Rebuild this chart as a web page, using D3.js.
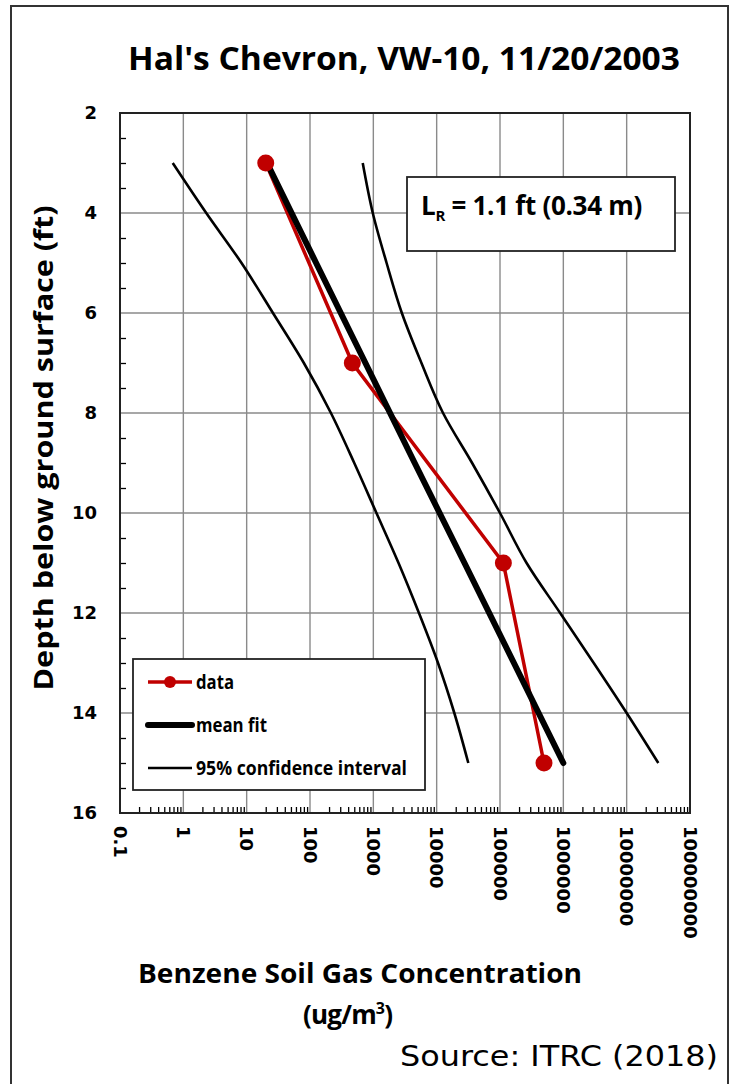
<!DOCTYPE html>
<html>
<head>
<meta charset="utf-8">
<script src="https://cdn.jsdelivr.net/npm/d3@7"></script>
<style>
  body { margin: 0; background: #fff; }
  svg { display: block; }
</style>
</head>
<body>
<div id="chart"></div>
<script>
// depths (ft) and concentrations (ug/m3)
var dataDepth = [3, 7, 11, 15];
var dataConc = [20, 466, 113000, 495000];

var fitDepth = [3, 5, 7, 9, 11, 13, 15];
var fitConc = [21, 125, 750, 4500, 27500, 166000, 1000000];

var ciDepth = [3, 4, 5, 6, 7, 8, 9, 10, 11, 12, 13, 14, 15];
var ciLower = [0.68, 2.3, 8.3, 26, 80, 214, 500, 1120, 2500, 5250, 10500, 19000, 31600];
var ciUpper = [680, 980, 1620, 2820, 5750, 12600, 36300, 100000, 263000, 891000, 3020000, 10000000, 31600000];

var xTicks = [0.1, 1, 10, 100, 1000, 10000, 100000, 1000000, 10000000, 100000000];
var xTickLabels = ["0.1", "1", "10", "100", "1000", "10000", "100000", "1000000", "10000000", "100000000"];
var yTicks = [2, 4, 6, 8, 10, 12, 14, 16];

var width = 731, height = 1084;
var svg = d3.select("#chart").append("svg")
    .attr("width", width)
    .attr("height", height);

// outer frame
svg.append("rect")
    .attr("x", 11).attr("y", 6)
    .attr("width", 717).attr("height", 1090)
    .attr("fill", "none")
    .attr("stroke", "#333")
    .attr("stroke-width", 2);

// scales
var x = d3.scaleLog().domain([0.1, 1e8]).range([120, 690]);
var y = d3.scaleLinear().domain([2, 16]).range([113, 813]);

// gridlines
var grid = svg.append("g");
grid.selectAll(".vgrid")
    .data(xTicks.slice(1, -1))
    .enter().append("line")
    .attr("x1", d => x(d)).attr("x2", d => x(d))
    .attr("y1", y(2)).attr("y2", y(16))
    .attr("stroke", "#8a8a8a").attr("stroke-width", 1.4);
grid.selectAll(".hgrid")
    .data(yTicks.slice(1, -1))
    .enter().append("line")
    .attr("x1", x(0.1)).attr("x2", x(1e8))
    .attr("y1", d => y(d)).attr("y2", d => y(d))
    .attr("stroke", "#8a8a8a").attr("stroke-width", 1.4);

// minor ticks (inside)
var xMinor = [];
xTicks.slice(0, -1).forEach(function(t) {
    for (var k = 2; k <= 9; k++) xMinor.push(t * k);
});
svg.append("g")
    .attr("transform", "translate(0," + y(16) + ")")
    .call(d3.axisBottom(x).tickValues(xMinor).tickSize(-6).tickFormat(""))
    .call(g => g.select(".domain").remove())
    .selectAll("line").attr("stroke", "#000").attr("stroke-width", 1.3);

var yMinor = d3.range(2.5, 16, 0.5).filter(d => d % 2 !== 0);
svg.append("g")
    .attr("transform", "translate(" + x(0.1) + ",0)")
    .call(d3.axisLeft(y).tickValues(yMinor).tickSize(-6).tickFormat(""))
    .call(g => g.select(".domain").remove())
    .selectAll("line").attr("stroke", "#000").attr("stroke-width", 1.3);

// plot border
svg.append("rect")
    .attr("x", x(0.1)).attr("y", y(2))
    .attr("width", x(1e8) - x(0.1)).attr("height", y(16) - y(2))
    .attr("fill", "none")
    .attr("stroke", "#222")
    .attr("stroke-width", 2);

// y tick labels
svg.selectAll(".ylab")
    .data(yTicks)
    .enter().append("text")
    .attr("x", 97)
    .attr("y", d => y(d))
    .attr("dy", "0.36em")
    .attr("text-anchor", "end")
    .style("font-family", "DejaVu Sans")
    .style("font-weight", "bold")
    .style("font-size", "18px")
    .text(d => d);

// x tick labels (rotated)
svg.selectAll(".xlab")
    .data(xTicks)
    .enter().append("text")
    .attr("transform", (d, i) => "translate(" + x(d) + ",826) rotate(90)")
    .attr("dy", "0.36em")
    .attr("text-anchor", "start")
    .style("font-family", "DejaVu Sans")
    .style("font-weight", "bold")
    .style("font-size", "18px")
    .text((d, i) => xTickLabels[i]);

// lines
var line = d3.line().x(d => x(d[0])).y(d => y(d[1]));
var smooth = d3.line().x(d => x(d[0])).y(d => y(d[1])).curve(d3.curveMonotoneY);

svg.append("path")
    .datum(ciDepth.map((d, i) => [ciLower[i], d]))
    .attr("d", smooth)
    .attr("fill", "none").attr("stroke", "#000").attr("stroke-width", 2.6);
svg.append("path")
    .datum(ciDepth.map((d, i) => [ciUpper[i], d]))
    .attr("d", smooth)
    .attr("fill", "none").attr("stroke", "#000").attr("stroke-width", 2.6);

svg.append("path")
    .datum(dataDepth.map((d, i) => [dataConc[i], d]))
    .attr("d", line)
    .attr("fill", "none").attr("stroke", "#c00000").attr("stroke-width", 3.5);

svg.append("path")
    .datum(fitDepth.map((d, i) => [fitConc[i], d]))
    .attr("d", line)
    .attr("fill", "none").attr("stroke", "#000").attr("stroke-width", 6)
    .attr("stroke-linecap", "round");

svg.selectAll(".dot")
    .data(dataDepth.map((d, i) => [dataConc[i], d]))
    .enter().append("circle")
    .attr("cx", d => x(d[0]))
    .attr("cy", d => y(d[1]))
    .attr("r", 8.5)
    .attr("fill", "#c00000");

// L_R box
svg.append("rect")
    .attr("x", 407).attr("y", 177)
    .attr("width", 268).attr("height", 74)
    .attr("fill", "#fff").attr("stroke", "#222").attr("stroke-width", 1.8);
var lr = svg.append("text")
    .attr("x", 421).attr("y", 215)
    .style("font-family", "Open Sans")
    .style("font-weight", "bold")
    .style("font-size", "26px")
    .style("letter-spacing", "-0.3px");
lr.append("tspan").text("L");
lr.append("tspan").attr("dy", 6).style("font-size", "15px").text("R");
lr.append("tspan").attr("dy", -6).text(" = 1.1 ft (0.34 m)");

// legend
var lg = svg.append("g");
lg.append("rect")
    .attr("x", 133).attr("y", 659)
    .attr("width", 292).attr("height", 131)
    .attr("fill", "#fff").attr("stroke", "#222").attr("stroke-width", 1.8);
var legendItems = [
    {label: "data", color: "#c00000", w: 3.5, dot: true, len: 38},
    {label: "mean fit", color: "#000", w: 6, dot: false, len: 71},
    {label: "95% confidence interval", color: "#000", w: 2.6, dot: false, len: 211}
];
legendItems.forEach(function(it, i) {
    var ly = 682 + i * 43;
    lg.append("line")
        .attr("x1", 148).attr("x2", 192)
        .attr("y1", ly).attr("y2", ly)
        .attr("stroke", it.color).attr("stroke-width", it.w)
        .attr("stroke-linecap", it.w > 4 ? "round" : "butt");
    if (it.dot) {
        lg.append("circle").attr("cx", 170).attr("cy", ly).attr("r", 6).attr("fill", it.color);
    }
    lg.append("text")
        .attr("x", 196).attr("y", ly + 7)
        .attr("textLength", it.len)
        .attr("lengthAdjust", "spacingAndGlyphs")
        .style("font-family", "Open Sans")
        .style("font-weight", "bold")
        .style("font-size", "19px")
        .text(it.label);
});

// title
svg.append("text")
    .attr("x", 128).attr("y", 70)
    .attr("textLength", 552)
    .attr("lengthAdjust", "spacingAndGlyphs")
    .style("font-family", "Open Sans")
    .style("font-weight", "bold")
    .style("font-size", "33px")
    .text("Hal's Chevron, VW-10, 11/20/2003");

// y axis title
svg.append("text")
    .attr("transform", "translate(53,448) rotate(-90)")
    .attr("text-anchor", "middle")
    .attr("textLength", 485)
    .attr("lengthAdjust", "spacingAndGlyphs")
    .style("font-family", "Open Sans")
    .style("font-weight", "bold")
    .style("font-size", "27px")
    .text("Depth below ground surface (ft)");

// x axis title
svg.append("text")
    .attr("x", 138).attr("y", 983)
    .attr("textLength", 444)
    .attr("lengthAdjust", "spacingAndGlyphs")
    .style("font-family", "Open Sans")
    .style("font-weight", "bold")
    .style("font-size", "26px")
    .text("Benzene Soil Gas Concentration");
var unit = svg.append("text")
    .attr("x", 303).attr("y", 1024)
    .style("font-family", "Open Sans")
    .style("font-weight", "bold")
    .style("font-size", "26px")
    .style("letter-spacing", "-0.8px");
unit.append("tspan").text("(ug/m");
unit.append("tspan").attr("dy", -10).style("font-size", "16px").text("3");
unit.append("tspan").attr("dy", 10).text(")");

// source
svg.append("text")
    .attr("x", 400).attr("y", 1066)
    .attr("textLength", 318)
    .attr("lengthAdjust", "spacingAndGlyphs")
    .style("font-family", "DejaVu Sans")
    .style("font-size", "29px")
    .text("Source: ITRC (2018)");
</script>
</body>
</html>
